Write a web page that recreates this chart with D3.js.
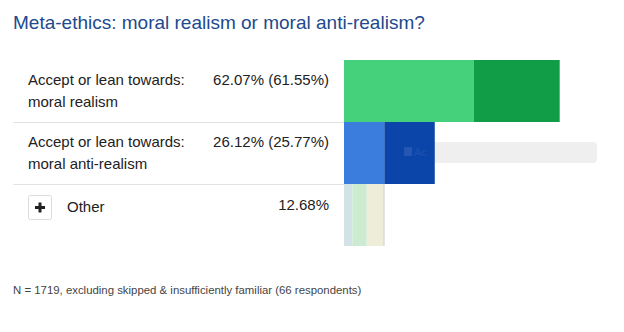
<!DOCTYPE html>
<html>
<head>
<meta charset="utf-8">
<script src="https://cdn.jsdelivr.net/npm/d3@7"></script>
<style>
  html, body { margin: 0; padding: 0; background: #fff; }
  svg { display: block; font-family: "Liberation Sans", Arial, sans-serif; }
</style>
</head>
<body>
<svg id="chart" width="624" height="332"></svg>
<script>
// ---- data ----
const title = "Meta-ethics: moral realism or moral anti-realism?";
const categories = ["moral realism", "moral anti-realism", "Other"];
const labelPrefix = ["Accept or lean towards:", "Accept or lean towards:", ""];
const valueLabels = ["62.07% (61.55%)", "26.12% (25.77%)", "12.68%"];
const acceptValues = [37.4, 11.6];
const leanValues = [24.67, 14.52];
const otherParts = [2.4, 4.15, 4.8, 0.3];
const footnote = "N = 1719, excluding skipped & insufficiently familiar (66 respondents)";

const mainColors = [["#45d07c", "#119c47"], ["#3a7ddc", "#0b45a9"]];
const otherColors = ["#d3e2e7", "#cdebd1", "#eeedda", "#c9c9c9"];

// ---- drawing ----
const svg = d3.select("#chart");
const x = d3.scaleLinear().domain([0, 100]).range([344, 344 + 347.5]);
const y = d3.scaleBand().domain(categories).range([60, 246]).padding(0);

svg.append("text")
  .attr("x", 13).attr("y", 29)
  .attr("font-size", 19).attr("fill", "#22498d")
  .text(title);

// faded tooltip (behind bars)
svg.append("rect")
  .attr("x", 398).attr("y", 142).attr("width", 199).attr("height", 21)
  .attr("rx", 4).attr("fill", "#efefef");

// separators
[1, 2].forEach(i => {
  svg.append("line")
    .attr("x1", 13).attr("x2", x(0))
    .attr("y1", y(categories[i]) + 0.5).attr("y2", y(categories[i]) + 0.5)
    .attr("stroke", "#e2e2e2").attr("stroke-width", 1);
});

// main stacked bars
const stacks = [0, 1].map(i => [
  { cat: categories[i], x0: 0, x1: acceptValues[i], color: mainColors[i][0] },
  { cat: categories[i], x0: acceptValues[i], x1: acceptValues[i] + leanValues[i], color: mainColors[i][1] }
]).flat();

svg.append("g").selectAll("rect").data(stacks).join("rect")
  .attr("x", d => x(d.x0))
  .attr("width", d => x(d.x1) - x(d.x0))
  .attr("y", d => y(d.cat))
  .attr("height", y.bandwidth())
  .attr("fill", d => d.color);

// other bar
let acc = 0;
const otherSegs = otherParts.map((v, i) => { const s = { x0: acc, x1: acc + v, color: otherColors[i] }; acc += v; return s; });
svg.append("g").selectAll("rect").data(otherSegs).join("rect")
  .attr("x", d => x(d.x0))
  .attr("width", d => x(d.x1) - x(d.x0))
  .attr("y", y("Other"))
  .attr("height", y.bandwidth())
  .attr("fill", d => d.color);

// faint tooltip icon over blue bar
svg.append("rect")
  .attr("x", 404).attr("y", 147).attr("width", 8).attr("height", 9)
  .attr("fill", "#ffffff").attr("opacity", 0.1);
svg.append("text")
  .attr("x", 414).attr("y", 156).attr("font-size", 11)
  .attr("fill", "#ffffff").attr("opacity", 0.07).text("Ac");

// labels
[0, 1].forEach(i => {
  const top = y(categories[i]);
  svg.append("text").attr("x", 28).attr("y", top + 25)
    .attr("font-size", 15).attr("fill", "#222").text(labelPrefix[i]);
  svg.append("text").attr("x", 28).attr("y", top + 47)
    .attr("font-size", 15).attr("fill", "#222").text(categories[i]);
  svg.append("text").attr("x", 329).attr("y", top + 25)
    .attr("text-anchor", "end")
    .attr("font-size", 15).attr("fill", "#222").text(valueLabels[i]);
});

// other row
const oTop = y("Other");
svg.append("rect")
  .attr("x", 28.5).attr("y", oTop + 11.5).attr("width", 23).attr("height", 24)
  .attr("rx", 2).attr("fill", "#fff").attr("stroke", "#dcdcdc");
svg.append("rect").attr("x", 35).attr("y", oTop + 22).attr("width", 10).attr("height", 3).attr("fill", "#222");
svg.append("rect").attr("x", 38.5).attr("y", oTop + 18.5).attr("width", 3).attr("height", 10).attr("fill", "#222");
svg.append("text").attr("x", 67).attr("y", oTop + 28)
  .attr("font-size", 15).attr("fill", "#222").text(categories[2]);
svg.append("text").attr("x", 329).attr("y", oTop + 26)
  .attr("text-anchor", "end")
  .attr("font-size", 15).attr("fill", "#222").text(valueLabels[2]);

// footnote
svg.append("text").attr("x", 13).attr("y", 294)
  .attr("font-size", 11.4).attr("fill", "#444").text(footnote);
</script>
</body>
</html>
